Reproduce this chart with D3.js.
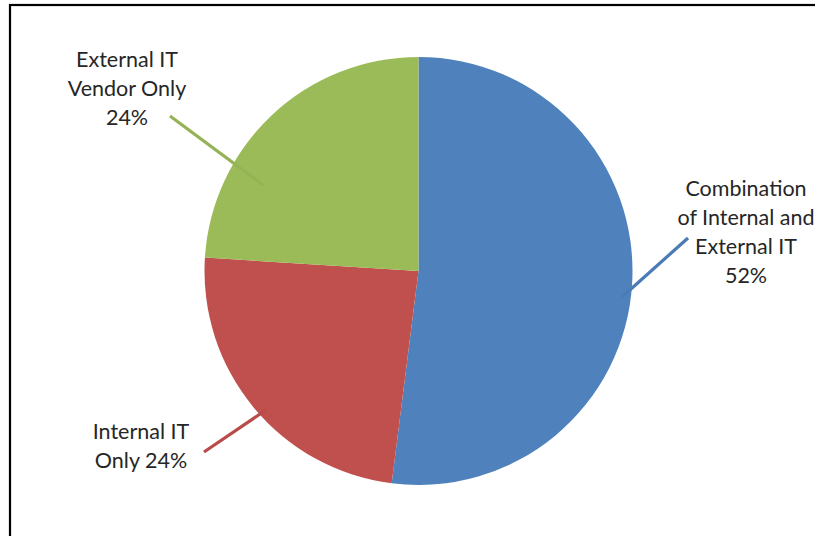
<!DOCTYPE html>
<html>
<head>
<meta charset="utf-8">
<script src="https://cdn.jsdelivr.net/npm/d3@7"></script>
<style>
  html, body { margin: 0; padding: 0; background: #fff; }
  svg { display: block; }
</style>
</head>
<body>
<svg id="chart" width="815" height="536"></svg>
<script>
// Data
const categories = ["Combination of Internal and External IT", "Internal IT Only", "External IT Vendor Only"];
const values = [52, 24, 24];
const colors = ["#4F81BD", "#C0504D", "#9BBB59"];
const labelLines = [
  ["Combination", "of Internal and", "External IT", "52%"],
  ["Internal IT", "Only 24%"],
  ["External IT", "Vendor Only", "24%"]
];

// Layout (positions)
const W = 815, H = 536;
const cx = 418.5, cy = 271, R = 214;
const labelPos = [
  { x: 746, y: 196 },
  { x: 141, y: 439 },
  { x: 127, y: 67 }
];
const leaders = [
  { from: [688, 238], to: [622, 297] },
  { from: [204, 452], to: [266, 410] },
  { from: [170, 116], to: [263, 185] }
];
const lineH = 29;

const svg = d3.select("#chart");

// Border
svg.append("rect")
  .attr("x", 10).attr("y", 5)
  .attr("width", W + 20).attr("height", H + 20)
  .attr("fill", "#fff")
  .attr("stroke", "#000").attr("stroke-width", 2.2);

const pie = d3.pie().sort(null).value(d => d)(values);
const arc = d3.arc().innerRadius(0).outerRadius(R);

const g = svg.append("g").attr("transform", `translate(${cx},${cy})`);
g.selectAll("path.slice")
  .data(pie)
  .join("path")
  .attr("class", "slice")
  .attr("d", arc)
  .attr("fill", (d, i) => colors[i]);

// Leader lines
svg.selectAll("line.leader")
  .data(leaders)
  .join("line")
  .attr("class", "leader")
  .attr("x1", d => d.from[0]).attr("y1", d => d.from[1])
  .attr("x2", d => d.to[0]).attr("y2", d => d.to[1])
  .attr("stroke", (d, i) => colors[i])
  .attr("stroke-width", 3.2);

// Slightly darker overlay of leader inside the slice
svg.selectAll("line.leaderIn")
  .data(leaders)
  .join("line")
  .attr("class", "leaderIn")
  .attr("x1", d => d.from[0]).attr("y1", d => d.from[1])
  .attr("x2", d => d.to[0]).attr("y2", d => d.to[1])
  .attr("stroke", "#000")
  .attr("stroke-opacity", 0.04)
  .attr("stroke-width", 3.2);

// Labels
labelLines.forEach((lines, i) => {
  const t = svg.append("text")
    .attr("text-anchor", "middle")
    .attr("font-family", "Lato, 'Open Sans', sans-serif")
    .attr("font-size", 21.5)
    .attr("fill", "#262626");
  lines.forEach((ln, j) => {
    t.append("tspan")
      .attr("x", labelPos[i].x)
      .attr("y", labelPos[i].y + j * lineH)
      .text(ln);
  });
});
</script>
</body>
</html>
